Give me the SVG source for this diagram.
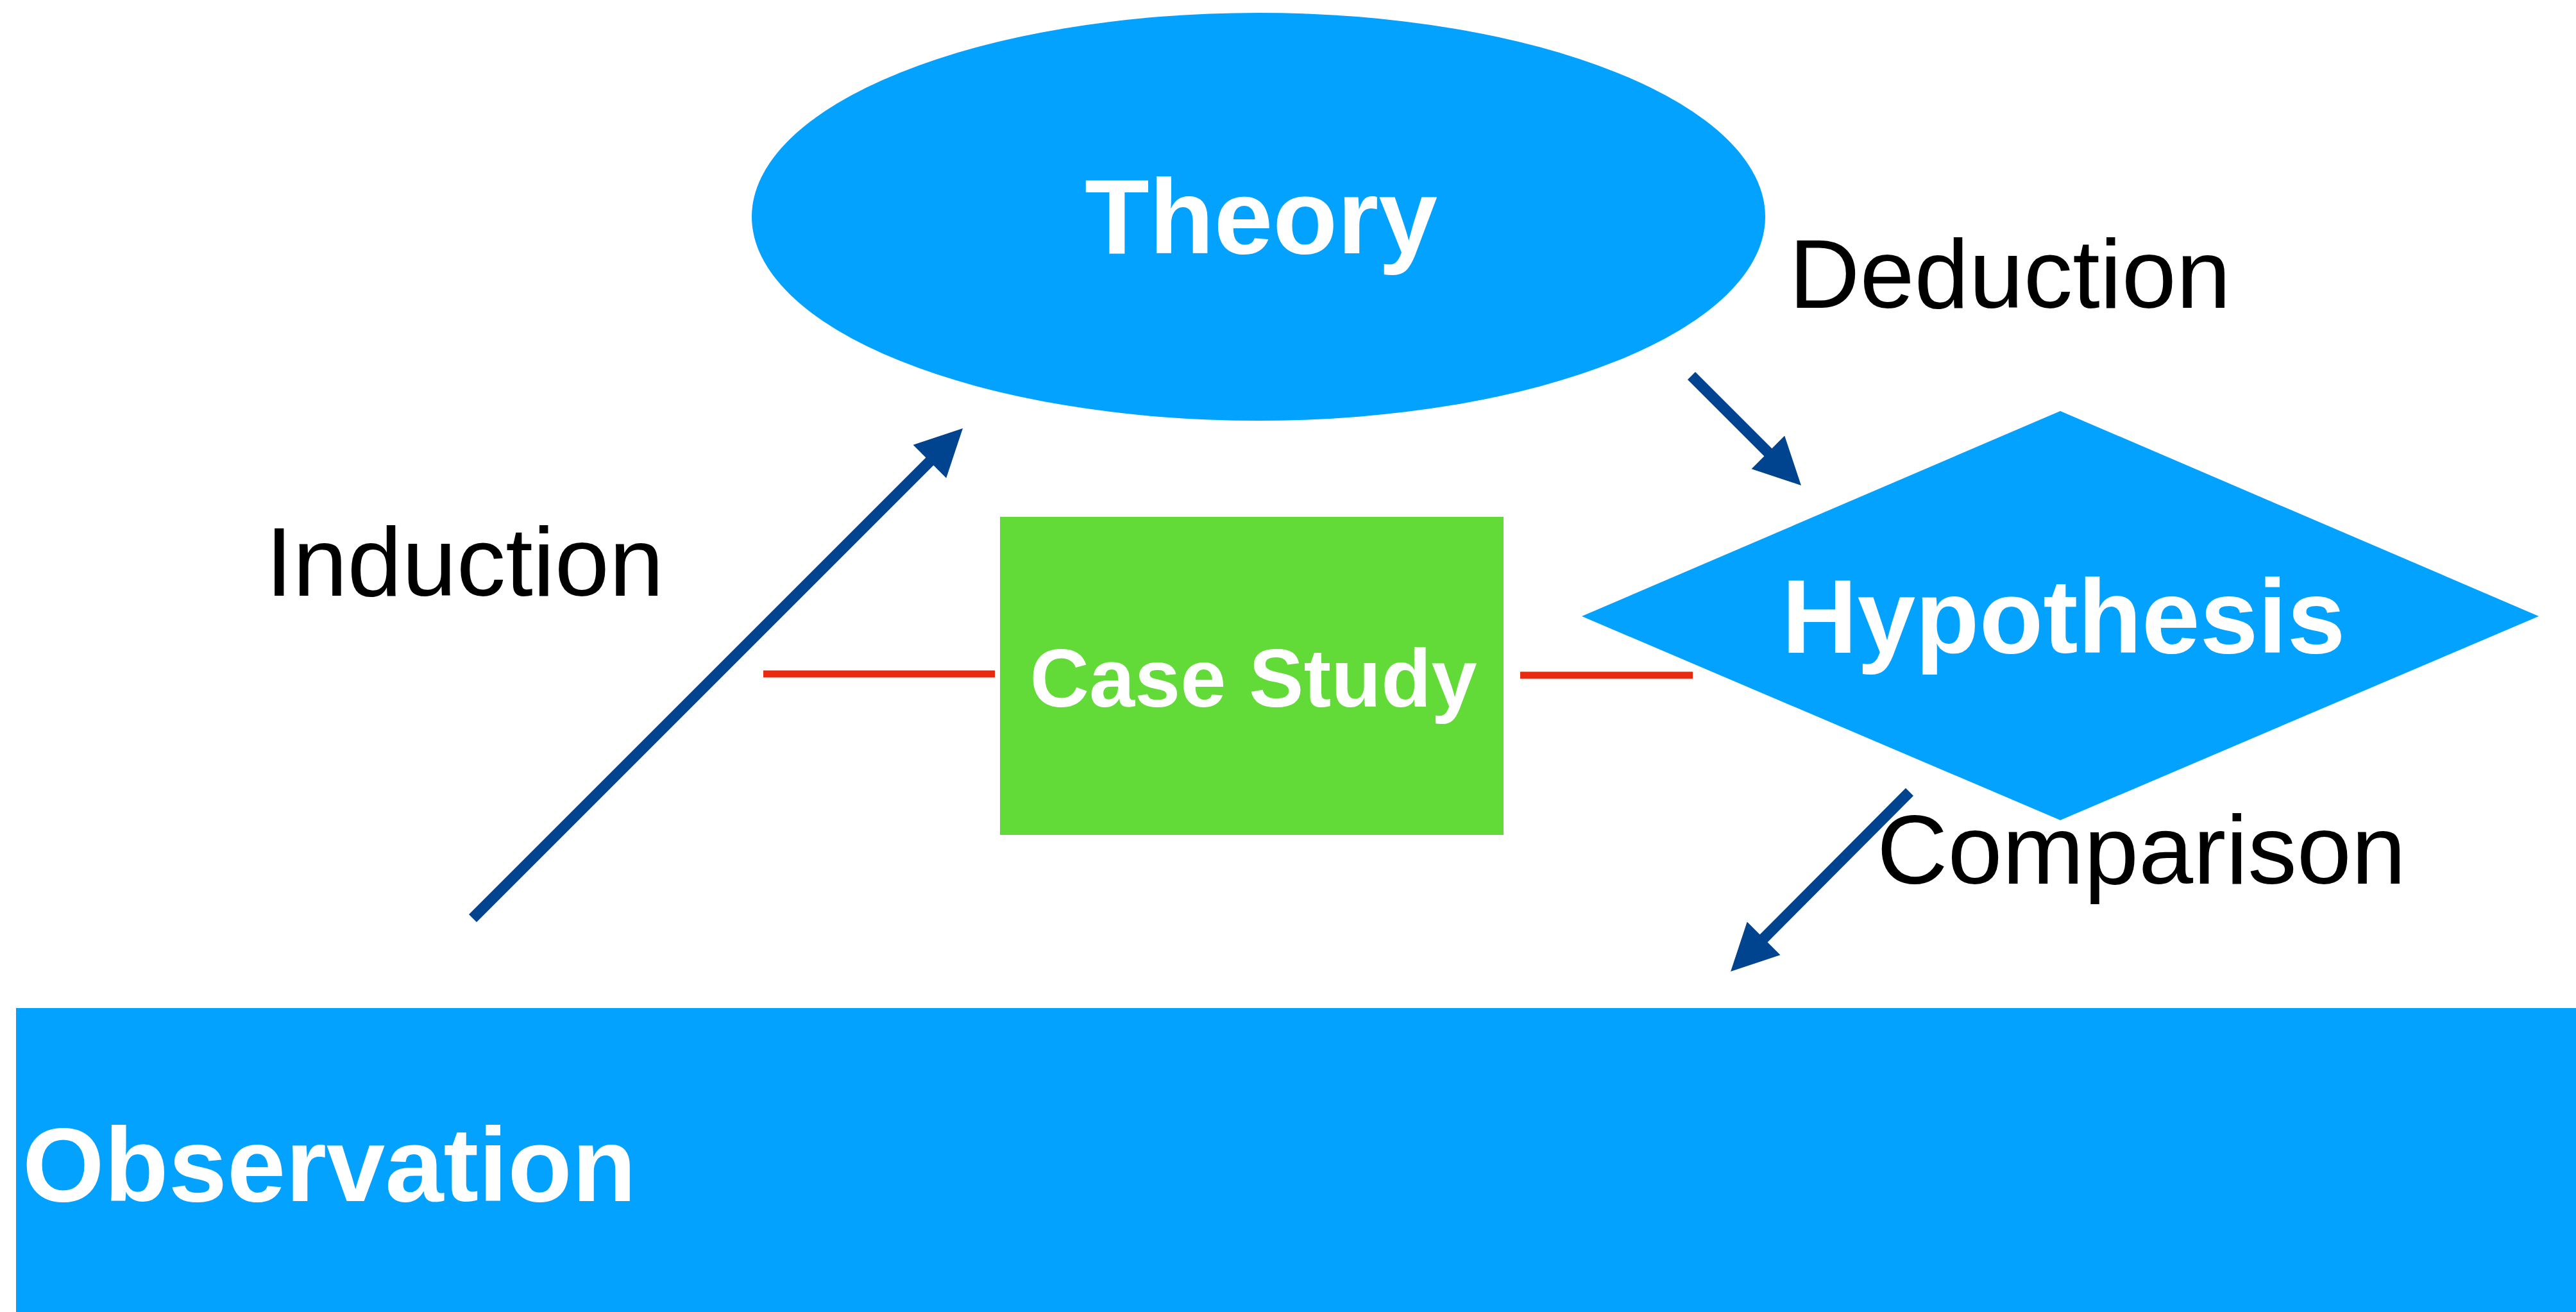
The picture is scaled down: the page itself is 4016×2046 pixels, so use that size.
<svg xmlns="http://www.w3.org/2000/svg" width="4016" height="2046" viewBox="0 0 4016 2046">
<defs>
<style>
.blue{fill:#03A2FF}
.green{fill:#62DA38}
.lbl{font-family:"Liberation Sans",Arial,Helvetica,sans-serif;fill:#000;font-size:153px}
.nodelbl{font-family:"Liberation Sans",Arial,Helvetica,sans-serif;fill:#fff;font-weight:bold}
.arrow{stroke:#00438F;stroke-width:17;fill:none;marker-end:url(#head)}
.assoc{stroke:#EA2A10;stroke-width:11;fill:none}
</style>
<marker id="head" viewBox="0 -37 74 74" markerWidth="74" markerHeight="74" refX="3" refY="0" orient="auto" markerUnits="userSpaceOnUse">
<path d="M0,-36.5 L73,0 L0,36.5 Z" fill="#00438F"/>
</marker>
</defs>
<rect width="4016" height="2046" fill="#fff"/>
<g id="observation">
<rect class="blue" x="25" y="1572" width="3991" height="474"/>
<text class="nodelbl" x="35" y="1873" font-size="164">Observation</text>
</g>
<g id="theory">
<ellipse class="blue" cx="1962" cy="338" rx="790" ry="318"/>
<text class="nodelbl" x="1966" y="395" font-size="165" text-anchor="middle">Theory</text>
</g>
<g id="hypothesis">
<polygon class="blue" points="2466,961 3212,641 3958,961 3212,1279"/>
<text class="nodelbl" x="3217" y="1018" font-size="163" text-anchor="middle">Hypothesis</text>
</g>
<g id="case-study">
<rect class="green" x="1559" y="806" width="785" height="496"/>
<text class="nodelbl" x="1954" y="1102" font-size="128" text-anchor="middle">Case Study</text>
</g>
<g id="connectors">
<line class="arrow" x1="737" y1="1432" x2="1451.5" y2="717.5"/>
<line class="arrow" x1="2637" y1="586" x2="2758.5" y2="707.5"/>
<line class="arrow" x1="2977" y1="1235" x2="2747.5" y2="1465.5"/>
<line class="assoc" x1="1190" y1="1051" x2="1551" y2="1051"/>
<line class="assoc" x1="2370" y1="1053" x2="2639" y2="1053"/>
</g>
<g id="labels">
<text class="lbl" x="414" y="929">Induction</text>
<text class="lbl" x="2789" y="480">Deduction</text>
<text class="lbl" x="2926" y="1378" font-size="152">Comparison</text>
</g>
</svg>
